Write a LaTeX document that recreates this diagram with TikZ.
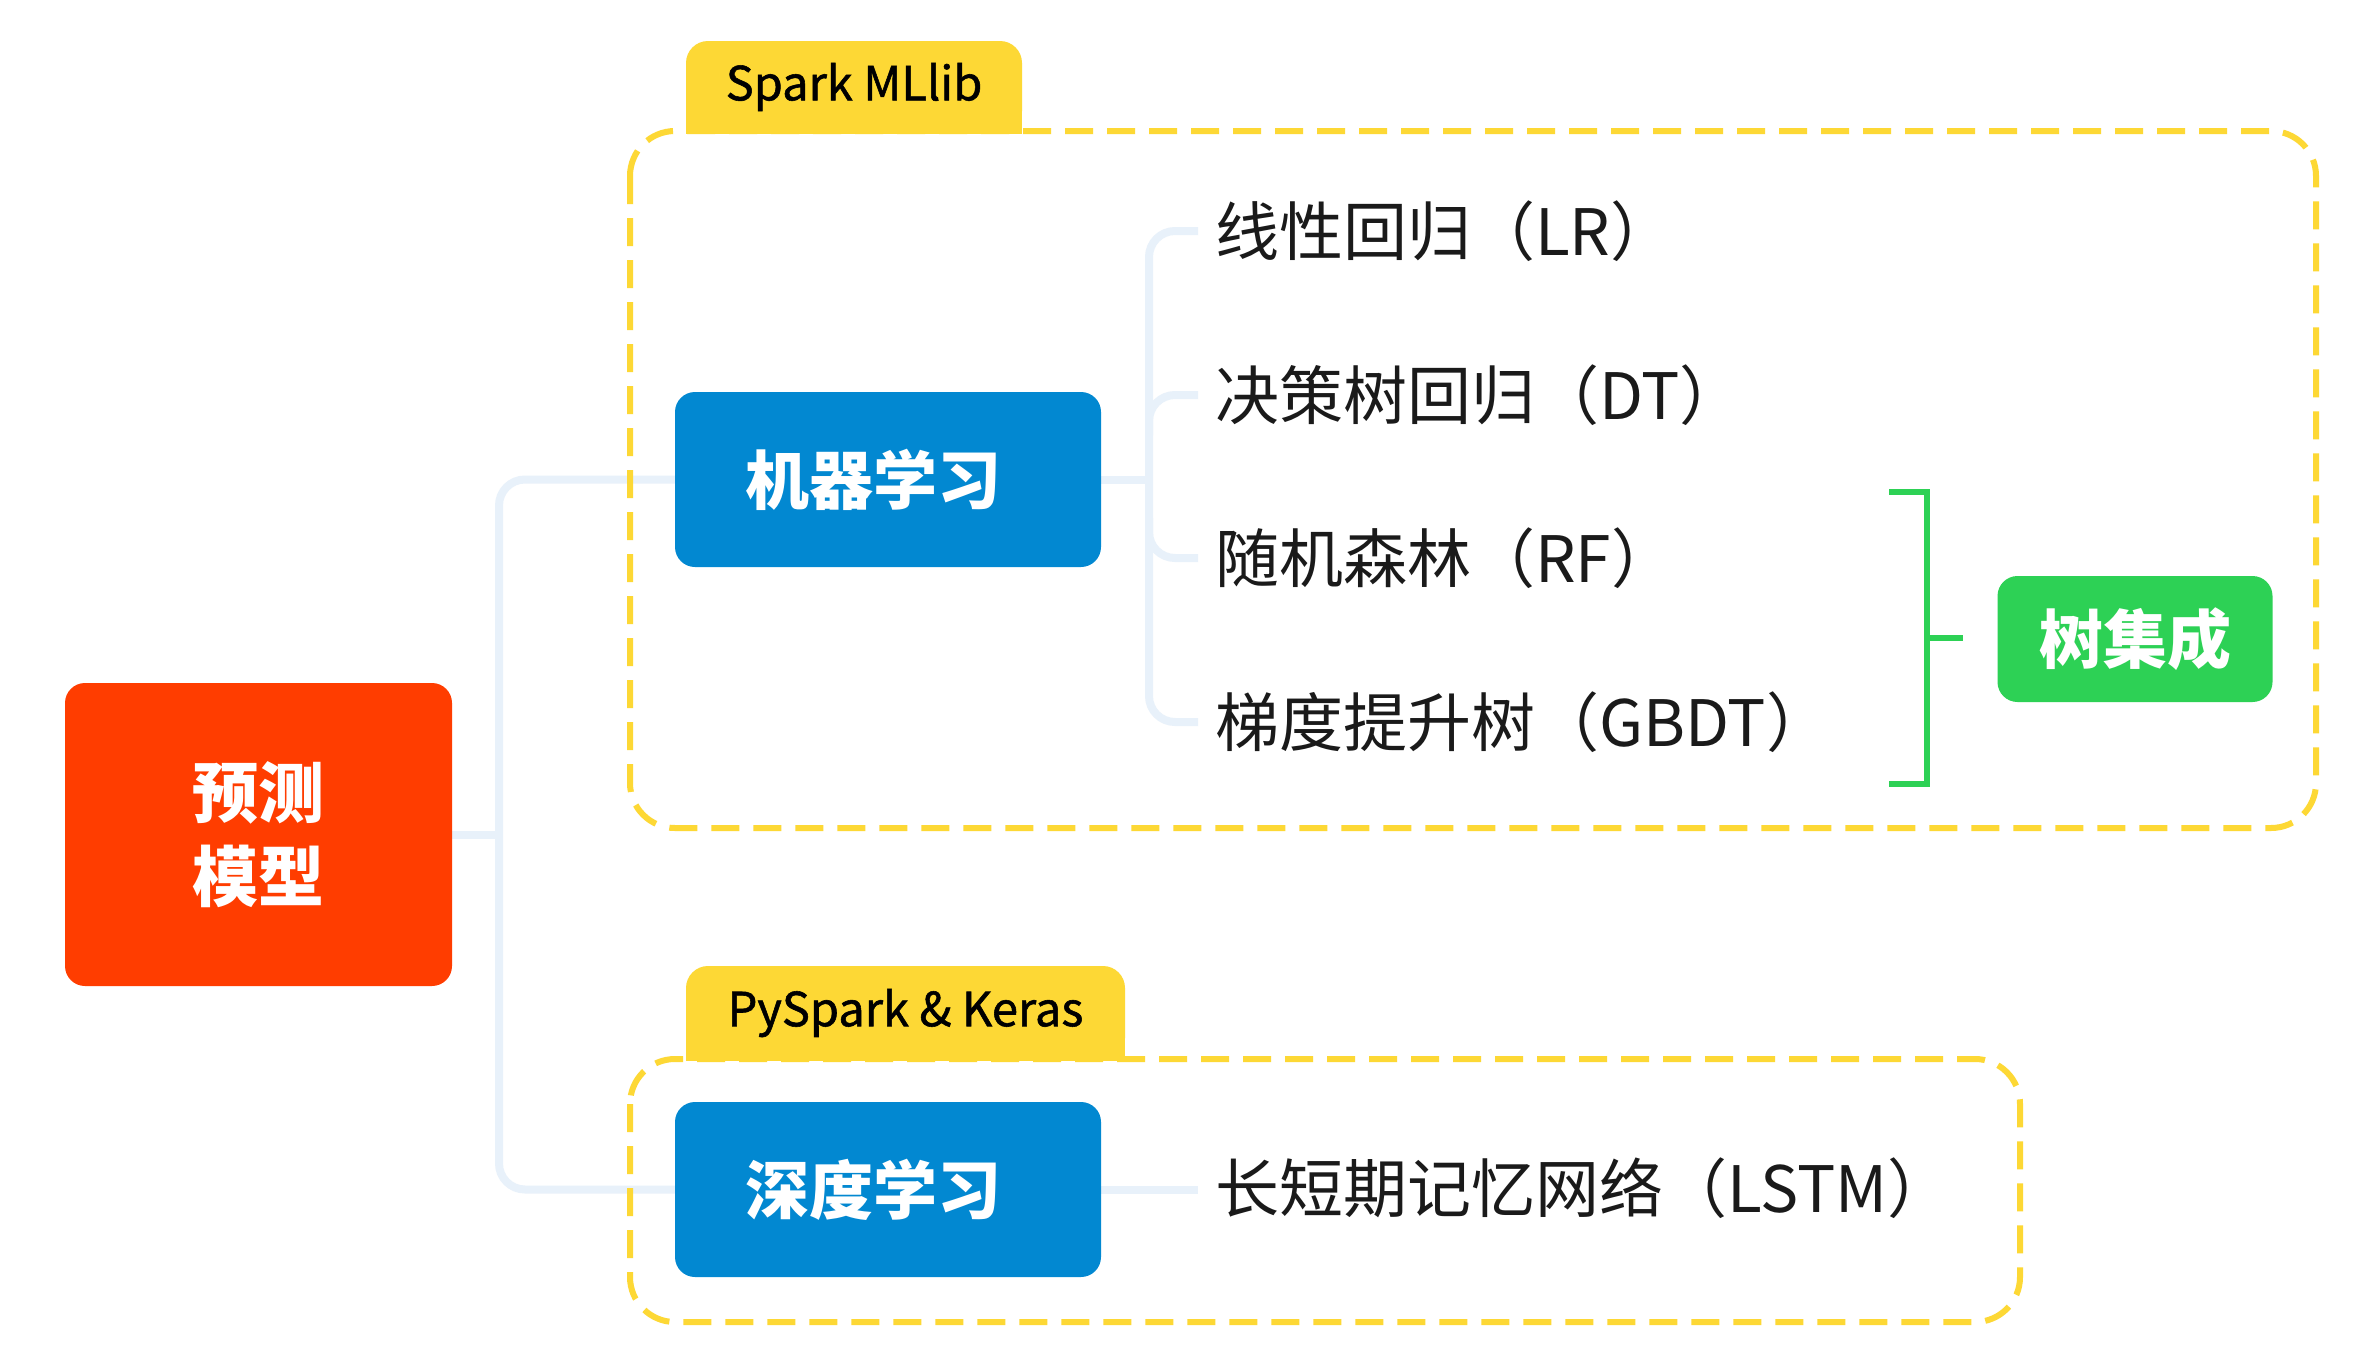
\documentclass[tikz,border=0pt]{standalone}
\usepackage{fontspec}
\setmainfont{Noto Sans CJK SC}
\usetikzlibrary{backgrounds,calc}
\definecolor{rootc}{HTML}{FF3D00}
\definecolor{bluec}{HTML}{0288D1}
\definecolor{greenc}{HTML}{2DD155}
\definecolor{yelc}{HTML}{FDD835}
\definecolor{linec}{HTML}{E8F1FA}
\definecolor{txtc}{HTML}{1A1A1A}
\begin{document}
\begin{tikzpicture}[x=1pt,y=-1pt,
 box/.style={rounded corners=20pt, text=white, font=\fontsize{64}{84}\selectfont\bfseries, inner sep=0pt, align=center},
 leaf/.style={anchor=west, inner xsep=17pt, inner ysep=0pt, text=txtc, font=\fontsize{64}{74}\selectfont, text height=56pt, text depth=8pt},
 tab/.style={fill=yelc, rounded corners=22pt, font=\fontsize{47}{52}\selectfont\addfontfeatures{FakeBold=1.2}, text=black, inner sep=0pt},
 conn/.style={draw=linec, line width=8pt, rounded corners=26pt},
 cont/.style={draw=yelc, line width=6pt, dash pattern=on 28pt off 14pt, rounded corners=45pt},
 brk/.style={draw=greenc, line width=6pt}]
\useasboundingbox (0,0) rectangle (2364,1350);

% main nodes
\node[box, fill=rootc, minimum width=387pt, minimum height=303pt, font=\fontsize{66}{84}\selectfont\bfseries] (root) at (258.5,834.5) {预测\\模型};
\node[box, fill=bluec, minimum width=426pt, minimum height=175pt] (ml) at (888,479.5) {机器学习\hspace{30pt}};
\node[box, fill=bluec, minimum width=426pt, minimum height=175pt] (dl) at (888,1189.5) {深度学习\hspace{30pt}};
\node[box, fill=greenc, minimum width=275pt, minimum height=126pt] (ens) at (2135,639) {树集成};

% leaves
\node[leaf] (lr) at (1198,231) {线性回归（LR）};
\node[leaf] (dt) at (1198,395) {决策树回归（DT）};
\node[leaf] (rf) at (1198,558) {随机森林（RF）};
\node[leaf] (gbdt) at (1198,722) {梯度提升树（GBDT）};
\node[leaf] (lstm) at (1198,1188) {长短期记忆网络（LSTM）};

% tabs
\node[tab, minimum width=336pt, minimum height=92pt] (tabA) at (854,87) {Spark MLlib};
\node[tab, minimum width=439pt, minimum height=94pt] (tabB) at (905.5,1013) {PySpark \& Keras};

\coordinate (trunk) at (499,0);
\coordinate (branch) at (1149,0);

\begin{scope}[on background layer]
 \fill[white] (0,0) rectangle (2364,1350);
 % connectors
 \draw[conn, rounded corners=0pt] (root.east) -- (root.east -| trunk);
 \draw[conn] (ml.west) -- (ml.west -| trunk) -- (dl.west -| trunk) -- (dl.west);
 \draw[conn, rounded corners=0pt] (ml.east) -- (ml.east -| branch);
 \draw[conn] (lr.west) -- (lr.west -| branch) -- (gbdt.west -| branch) -- (gbdt.west);
 \draw[conn] ($(dt.west -| branch)+(0,40)$) -- (dt.west -| branch) -- (dt.west);
 \draw[conn] ($(rf.west -| branch)+(0,-40)$) -- (rf.west -| branch) -- (rf.west);
 \draw[conn, rounded corners=0pt] (dl.east) -- (dl.east -| lstm.west);
 % containers
 \draw[cont] (630,131) rectangle (2316,828);
 \draw[cont] (630,1059) rectangle (2020,1322);
 % square bottoms of the tabs
 \fill[yelc] (tabA.west) rectangle ($(tabA.south east)+(0,1)$);
 \fill[yelc] (tabB.west) rectangle ($(tabB.south east)+(0,1)$);
\end{scope}

% bracket
\coordinate (bt) at (1889,492);
\coordinate (bb) at (1889,784);
\coordinate (bx) at (1927,0);
\coordinate (bm) at (1927,638);
\coordinate (bk) at (1963,638);
\draw[brk] (bt) -- (bt -| bx) -- (bb -| bx) -- (bb);
\draw[brk] (bm) -- (bk);
\end{tikzpicture}
\end{document}
